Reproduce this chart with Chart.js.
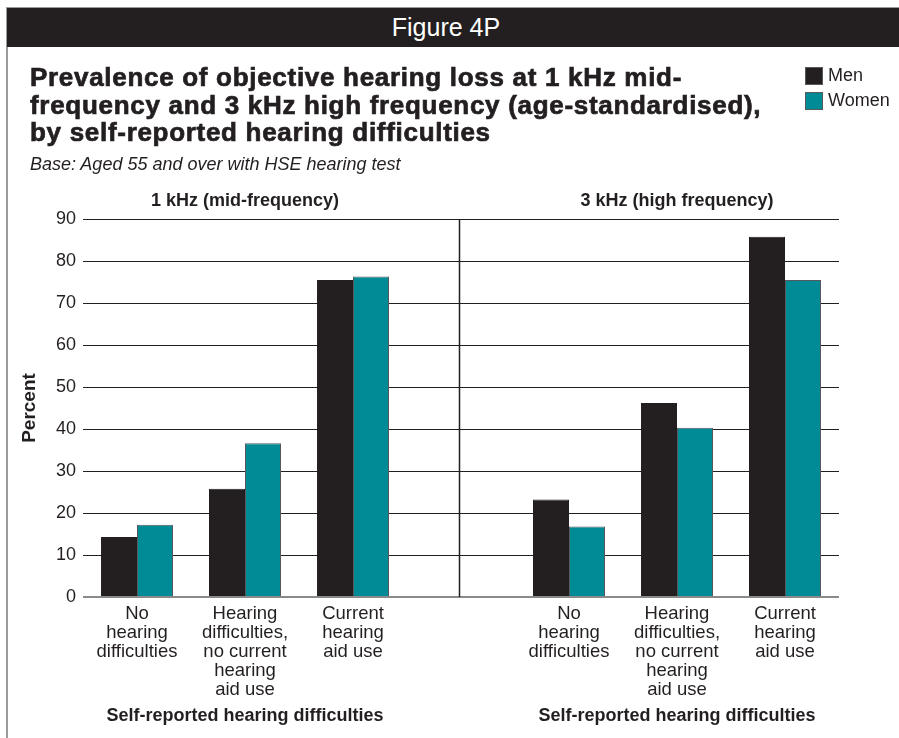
<!DOCTYPE html>
<html>
<head>
<meta charset="utf-8">
<script src="https://cdn.jsdelivr.net/npm/chart.js@4"></script>
<style>
  html, body { margin: 0; padding: 0; background: #fff; }
  body { width: 899px; height: 738px; position: relative; overflow: hidden; font-family: "Liberation Sans", Arial, sans-serif; color: #231f20; }
  #chart { position: absolute; left: 0; top: 0; }
  .frame-left { position: absolute; left: 6px; top: 7px; width: 2px; height: 731px; background: #9a9a9a; }
  .header { position: absolute; left: 7px; top: 7px; width: 878px; padding-right: 14px; height: 39px; background: #231f20; border-top: 1px solid #9a9a9a; color: #fff; font-size: 25px; text-align: center; line-height: 39px; }
  .title { position: absolute; left: 30px; top: 64px; font-size: 26px; letter-spacing: 0.7px; font-weight: bold; line-height: 27.5px; -webkit-text-stroke: 0.7px #231f20; white-space: nowrap; }
  .subtitle { position: absolute; left: 30px; top: 154px; font-size: 18px; font-style: italic; white-space: nowrap; }
  .legend { position: absolute; left: 805px; top: 63px; font-size: 18px; }
  .legend div { display: flex; align-items: center; height: 25px; }
  .legend span.box { display: inline-block; width: 18px; height: 18px; margin-right: 5px; box-sizing: border-box; border: 1px solid #58595b; }
</style>
</head>
<body>
<canvas id="chart" width="899" height="738"></canvas>
<div class="frame-left"></div>
<div class="header">Figure 4P</div>
<div class="title">Prevalence of objective hearing loss at 1 kHz mid-<br>frequency and 3 kHz high frequency (age-standardised),<br>by self-reported hearing difficulties</div>
<div class="subtitle">Base: Aged 55 and over with HSE hearing test</div>
<div class="legend">
  <div><span class="box" style="background:#231f20"></span>Men</div>
  <div><span class="box" style="background:#008b96"></span>Women</div>
</div>
<script>
// categories for each panel (same in both)
const categories = [
  ['No', 'hearing', 'difficulties'],
  ['Hearing', 'difficulties,', 'no current', 'hearing', 'aid use'],
  ['Current', 'hearing', 'aid use']
];
const panelTitles = ['1 kHz (mid-frequency)', '3 kHz (high frequency)'];
const axisTitle = 'Self-reported hearing difficulties';

// percent values
const men1k = [14.3, 25.8, 75.5];
const women1k = [17.2, 36.6, 76.3];
const men3k = [23.2, 46.2, 85.8];
const women3k = [16.8, 40.3, 75.5];

const yTicks = [0, 10, 20, 30, 40, 50, 60, 70, 80, 90];

const MEN = '#231f20';
const WOMEN = '#008b96';
const FONT = '"Liberation Sans", Arial, sans-serif';

// one x scale: 3 categories, an empty slot, 3 categories
const labels = [...categories, '', ...categories];
const menData = [...men1k, null, ...men3k];
const womenData = [...women1k, null, ...women3k];

const panelsPlugin = {
  id: 'panels',
  beforeDatasetsDraw(chart) {
    const { ctx, chartArea, scales } = chart;
    const x = Math.round(scales.x.getPixelForValue(3)) - 1.5;
    ctx.save();
    ctx.strokeStyle = '#231f20';
    ctx.lineWidth = 1.5;
    ctx.beginPath();
    ctx.moveTo(x, chartArea.top);
    ctx.lineTo(x, chartArea.bottom);
    ctx.stroke();
    ctx.restore();
  },
  afterDraw(chart) {
    const { ctx, scales } = chart;
    ctx.save();
    ctx.fillStyle = '#231f20';
    ctx.textAlign = 'center';
    ctx.textBaseline = 'middle';
    ctx.font = 'bold 18px ' + FONT;
    [1, 5].forEach((idx, i) => {
      const cx = scales.x.getPixelForValue(idx);
      ctx.fillText(panelTitles[i], cx, 201);
      ctx.fillText(axisTitle, cx, 716);
    });
    ctx.restore();
  }
};

const chart = new Chart(document.getElementById('chart'), {
  type: 'bar',
  data: {
    labels: labels,
    datasets: [{
      label: 'Men',
      data: menData,
      backgroundColor: MEN,
      borderColor: '#231f20',
      borderWidth: 1,
      categoryPercentage: 0.667,
      barPercentage: 1
    }, {
      label: 'Women',
      data: womenData,
      backgroundColor: WOMEN,
      borderColor: '#58595b',
      borderWidth: 1,
      categoryPercentage: 0.667,
      barPercentage: 1
    }]
  },
  options: {
    responsive: false,
    animation: false,
    devicePixelRatio: 1,
    layout: { padding: { top: 219, right: 60, left: 0, bottom: 0 } },
    plugins: { legend: { display: false }, tooltip: { enabled: false } },
    scales: {
      x: {
        grid: { display: false, drawTicks: false },
        border: { display: false },
        ticks: {
          color: '#231f20',
          font: { family: FONT, size: 18.5, lineHeight: 1.03 },
          padding: 7,
          maxRotation: 0,
          autoSkip: false
        },
        afterFit(s) { s.height = 141; }
      },
      y: {
        min: 0,
        max: 90,
        afterBuildTicks(s) { s.ticks = yTicks.map(v => ({ value: v })); },
        grid: {
          drawTicks: false,
          color: ctx => ctx.tick && ctx.tick.value === 0 ? '#8a8a8a' : '#231f20',
          lineWidth: ctx => ctx.tick && ctx.tick.value === 0 ? 2 : 1
        },
        border: { display: false },
        ticks: {
          color: '#231f20',
          font: { family: FONT, size: 18 },
          padding: 7
        },
        title: {
          display: true,
          text: 'Percent',
          color: '#231f20',
          font: { family: FONT, size: 19, weight: 'bold' },
          padding: { top: 18.5, bottom: 0 }
        },
        afterFit(s) { s.width = 83; }
      }
    }
  },
  plugins: [panelsPlugin]
});
</script>
</body>
</html>
